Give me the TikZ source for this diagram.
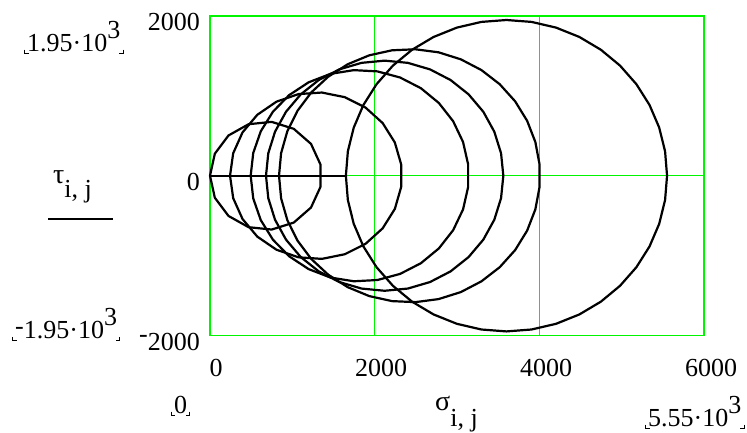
\documentclass[tikz,border=0pt]{standalone}
\usepackage{fontspec}
\setmainfont{Liberation Serif}
\newfontfamily\mcfont{Liberation Serif}
\usepackage{tikz}
\usetikzlibrary{calc, positioning}

\definecolor{gridgreen}{RGB}{0,245,0}

% Mathcad limit brackets under a range label
\newcommand{\limmarks}[1]{%
  \draw[limmark] ([xshift=-2.5pt,yshift=-2.5pt]#1.base west) ++(0,-4) -- ++(0,4) -- ++(4,0);
  \draw[limmark] ([xshift=2.5pt,yshift=-2.5pt]#1.base east) ++(0,-4) -- ++(0,4) -- ++(-4,0);
}

\begin{document}
\begin{tikzpicture}[x=1pt, y=-1pt,
    lbl/.style={inner sep=0pt, font=\mcfont\fontsize{26}{26}\selectfont},
    greek/.style={inner sep=0pt, font=\mcfont\fontsize{28}{28}\selectfont},
    gridline/.style={draw=gridgreen, line width=1.3pt},
    circ/.style={draw=black, line width=2.2pt, line join=round},
    limmark/.style={draw=black, line width=0.8pt}]
    \useasboundingbox (0,0) rectangle (747,432);

    % Plot area
    \begin{scope}[shift={(210,175.7)}, x=0.08235pt, y=0.07985pt]
        % Grid
        \draw[gridline] (0,-2000) rectangle (6000,2000);
        \draw[gridline] (2000,-2000) -- (2000,2000) (4000,-2000) -- (4000,2000) (0,0) -- (6000,0);

        % Mohr circles
        \draw[circ] (0,0) -- (1650,0);
        \draw[circ] plot[samples=16, domain=180:540] ({678+678*cos(\x)}, {678*sin(\x)});
        \draw[circ] plot[samples=24, domain=180:540] ({1287+1044*cos(\x)}, {1044*sin(\x)});
        \draw[circ] plot[samples=30, domain=180:540] ({1818+1324*cos(\x)}, {1324*sin(\x)});
        \draw[circ] plot[samples=33, domain=180:540] ({2121+1441*cos(\x)}, {1441*sin(\x)});
        \draw[circ] plot[samples=36, domain=180:540] ({2423+1585*cos(\x)}, {1585*sin(\x)});
        \draw[circ] plot[samples=41, domain=180:540] ({3600+1950*cos(\x)}, {1950*sin(\x)});
    \end{scope}

    % Axis numbers
    \node[lbl, anchor=base east] (ytop) at (200,30) {2000};
    \node[lbl, anchor=base east] (yzero) at (200,190) {0};
    \node[lbl, anchor=base east] (ybot) at (200,350) {\raisebox{8pt}{-}2000};
    \node[lbl, anchor=base] (xzero) at (216,376.5) {0};
    \node[lbl, anchor=base] (xtwo) at (381,376.5) {2000};
    \node[lbl, anchor=base] (xfour) at (546,376.5) {4000};
    \node[lbl, anchor=base] (xsix) at (711,376.5) {6000};

    % Range limits
    \node[lbl, anchor=base west] (ymax) at (27,51) {1.95·10\raisebox{13pt}{3}};
    \node[lbl, anchor=base west] (ymin) at (15,338.3) {\raisebox{4pt}{-}1.95·10\raisebox{13pt}{3}};
    \node[lbl, anchor=base] (xmin) at (180.5,413) {0};
    \node[lbl, anchor=base west] (xmax) at (648,426) {5.55·10\raisebox{13pt}{3}};
    \limmarks{ymax}
    \limmarks{ymin}
    \limmarks{xmin}
    \limmarks{xmax}

    % Axis names
    \node[greek, anchor=base west] (taulbl) at (53,183) {τ\raisebox{-14pt}{\fontsize{26}{26}\selectfont i, j}};
    \node[greek, anchor=base west] (sigmalbl) at (435,410) {σ\raisebox{-16pt}{\fontsize{26}{26}\selectfont i, j}};
    \draw[line width=2.6pt] (48,219) -- (113,219);
\end{tikzpicture}
\end{document}
